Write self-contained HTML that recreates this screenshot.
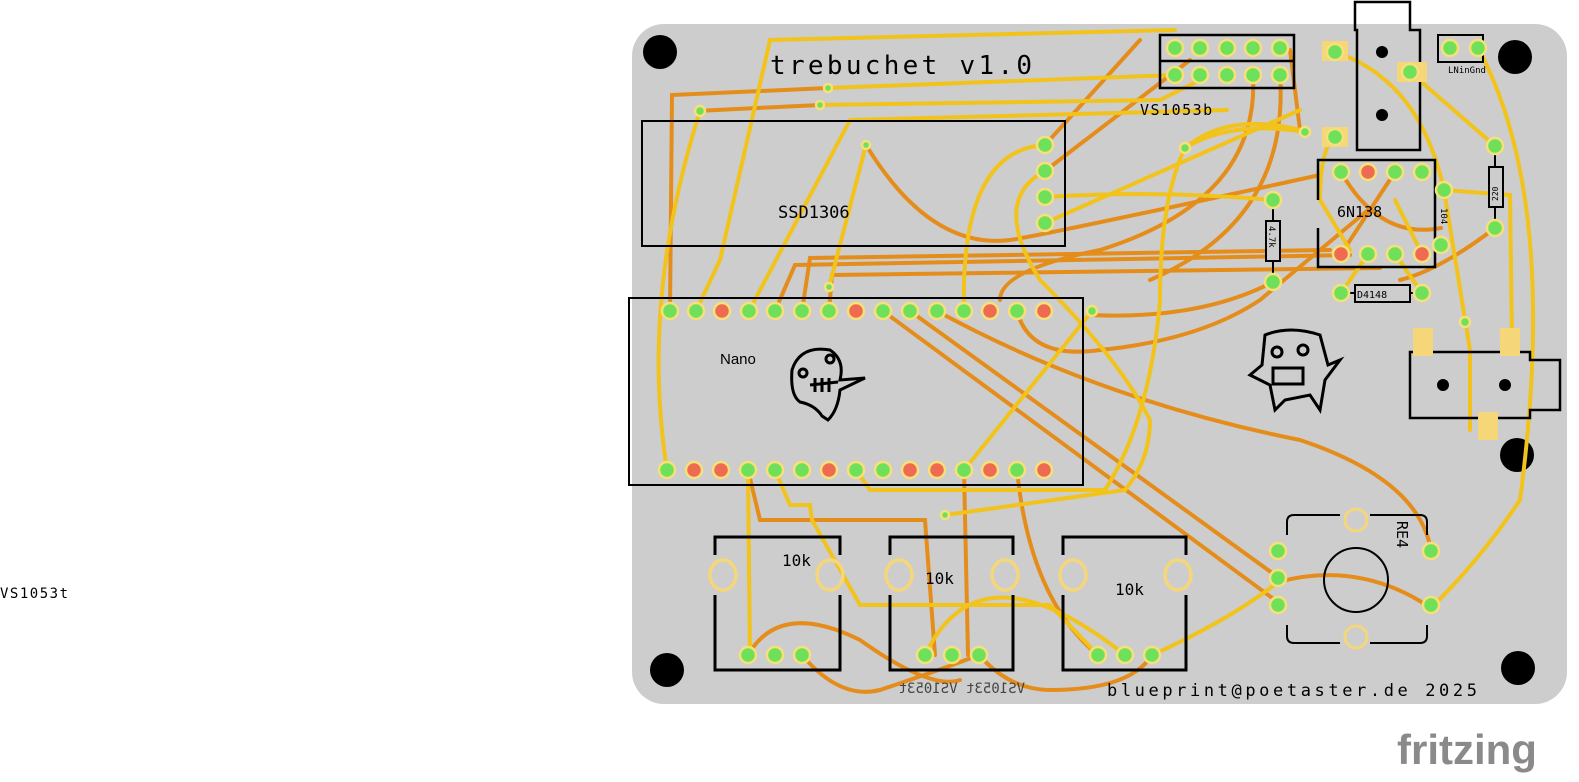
<!DOCTYPE html>
<html><head><meta charset="utf-8"><style>
html,body{margin:0;padding:0;background:#fff;width:1579px;height:782px;overflow:hidden}
svg{display:block}
text{font-family:"DejaVu Sans Mono","Liberation Mono",monospace}
</style></head><body>
<svg width="1579" height="782" viewBox="0 0 1579 782" xmlns="http://www.w3.org/2000/svg">
<rect x="632" y="24" width="935" height="680" rx="32" fill="#cdcdcd"/>
<g fill="#000">
<circle cx="660" cy="52" r="17"/><circle cx="1515" cy="57" r="17"/>
<circle cx="667" cy="670" r="17"/><circle cx="1518" cy="668" r="17"/><circle cx="1517" cy="455" r="17"/>
</g>
<g fill="none" stroke="#e58d1b" stroke-width="4" stroke-linecap="round">
<path d="M670 311 L672 95 L828 88"/>
<path d="M696 111 L820 105"/>
<path d="M866 145 Q930 250 1010 240 Q1040 236 1320 175"/>
<path d="M1045 145 L1140 40"/>
<path d="M1045 171 L1190 60"/>
<path d="M802 311 L810 258 L1330 250"/>
<path d="M775 311 L795 265 L1350 255"/>
<path d="M829 311 L832 275 L1380 268"/>
<path d="M1017 311 Q1030 360 1100 350 Q1200 340 1260 300 L1368 210"/>
<path d="M883 311 L1275 600"/>
<path d="M910 311 L1275 575"/>
<path d="M937 311 Q1100 400 1300 440 Q1420 480 1431 551"/>
<path d="M1278 582 Q1360 560 1431 608"/>
<path d="M748 470 L760 520 L925 520 L935 655"/>
<path d="M964 470 L968 655"/>
<path d="M1017 470 Q1030 600 1098 655"/>
<path d="M748 655 Q780 600 860 640 Q930 690 960 680"/>
<path d="M802 655 Q840 700 880 690 Q940 670 979 655 Q1010 690 1050 690 Q1130 690 1152 655"/>
<path d="M1253 75 Q1260 200 1100 250 Q1000 270 1000 300"/>
<path d="M1280 75 Q1290 220 1150 280"/>
<path d="M1300 130 L1290 50"/>
<path d="M1341 172 Q1380 240 1441 228"/>
<path d="M1395 172 L1341 254"/>
<path d="M1400 280 Q1440 270 1495 228"/>
<path d="M1273 282 Q1200 320 1090 315"/>
</g>
<g fill="none" stroke="#f2c31a" stroke-width="4" stroke-linecap="round">
<path d="M696 311 L720 260 L770 40 L1175 30"/>
<path d="M749 311 L850 120 L1227 110"/>
<path d="M829 287 L866 145"/>
<path d="M820 105 L1160 100 L1200 80"/>
<path d="M828 88 L1175 75"/>
<path d="M667 470 Q640 300 700 111"/>
<path d="M964 311 Q960 150 1045 145"/>
<path d="M1045 171 Q990 200 1040 280 Q1120 360 1150 420 Q1150 460 1125 490 L945 515"/>
<path d="M1045 197 Q1160 190 1273 200"/>
<path d="M1045 223 L1300 110"/>
<path d="M964 470 L1092 311"/>
<path d="M856 470 L870 490 L1105 490 Q1150 420 1160 300 Q1160 200 1185 148 Q1230 120 1305 132"/>
<path d="M748 470 L750 655"/>
<path d="M775 470 L790 505 L810 505 L812 520 L860 605 L1050 605 L1098 655"/>
<path d="M925 655 Q980 540 1125 655"/>
<path d="M1152 655 Q1230 620 1278 582"/>
<path d="M1335 52 Q1420 80 1444 190 L1470 350 L1470 430"/>
<path d="M1410 72 L1495 146"/>
<path d="M1478 48 Q1560 200 1520 500 Q1480 560 1431 608"/>
<path d="M1444 190 L1510 195 L1512 340"/>
<path d="M1335 135 Q1320 150 1320 200 L1350 250"/>
<path d="M1422 254 L1395 200"/>
<path d="M1341 293 L1368 254"/>
<path d="M1422 293 L1395 254"/>
<path d="M1185 148 Q1230 110 1308 132"/>
</g>
<rect x="642" y="121" width="423" height="125" fill="none" stroke="#000" stroke-width="2"/>
<text x="778" y="218" font-size="17" fill="#000">SSD1306</text>
<rect x="629" y="298" width="454" height="187" fill="none" stroke="#000" stroke-width="2"/>
<text x="720" y="364" font-size="15" style="font-family:'Liberation Sans',sans-serif" fill="#000">Nano</text>
<rect x="1160" y="35" width="134" height="53" fill="none" stroke="#000" stroke-width="2.5"/>
<line x1="1160" y1="61" x2="1294" y2="61" stroke="#000" stroke-width="2.5"/>
<text x="1140" y="115" font-size="15" letter-spacing="1.5" fill="#000">VS1053b</text>
<path d="M1355 30 V2 H1410 V30 H1420 V150 H1357 V30 Z" fill="none" stroke="#000" stroke-width="2.5"/>
<circle cx="1382" cy="52" r="6"/><circle cx="1382" cy="115" r="6"/>
<rect x="1322" y="41" width="26" height="20" fill="#f5d77a"/>
<rect x="1322" y="127" width="26" height="20" fill="#f5d77a"/>
<rect x="1397" y="62" width="30" height="20" fill="#f5d77a"/>
<rect x="1438" y="35" width="45" height="27" fill="none" stroke="#000" stroke-width="2"/>
<text x="1448" y="73" font-size="9" fill="#000">LNinGnd</text>
<path d="M1318 200 V160 H1435 V267 H1318 V228" fill="none" stroke="#000" stroke-width="2.5"/>
<text x="1337" y="217" font-size="15" fill="#000">6N138</text>
<line x1="1273" y1="200" x2="1273" y2="282" stroke="#000" stroke-width="2"/>
<rect x="1266" y="221" width="14" height="40" fill="#cdcdcd" stroke="#000" stroke-width="2"/>
<text transform="translate(1269,226) rotate(90)" font-size="9">4.7k</text>
<line x1="1495" y1="146" x2="1495" y2="228" stroke="#000" stroke-width="2"/>
<rect x="1489" y="167" width="14" height="40" fill="#cdcdcd" stroke="#000" stroke-width="2"/>
<text transform="translate(1498,201) rotate(-90)" font-size="8">220</text>
<line x1="1341" y1="293" x2="1422" y2="293" stroke="#000" stroke-width="2"/>
<rect x="1355" y="285" width="55" height="17" fill="#cdcdcd" stroke="#000" stroke-width="2"/>
<text x="1357" y="298" font-size="10">D4148</text>
<text transform="translate(1441,208) rotate(90)" font-size="9">104</text>
<path d="M1410 352 H1530 V360 H1560 V410 H1530 V418 H1410 Z" fill="none" stroke="#000" stroke-width="2.5"/>
<circle cx="1443" cy="385" r="6"/><circle cx="1505" cy="385" r="6"/>
<rect x="1413" y="328" width="20" height="28" fill="#f5d77a"/>
<rect x="1500" y="328" width="20" height="28" fill="#f5d77a"/>
<rect x="1478" y="412" width="20" height="28" fill="#f5d77a"/>
<path d="M1287 535 V522 Q1287 515 1294 515 H1340 M1370 515 H1420 Q1427 515 1427 522 V535 M1427 625 V636 Q1427 643 1420 643 H1370 M1340 643 H1294 Q1287 643 1287 636 V625" fill="none" stroke="#000" stroke-width="2"/>
<circle cx="1356" cy="580" r="32" fill="none" stroke="#000" stroke-width="2"/>
<circle cx="1356" cy="520" r="11" fill="none" stroke="#f5d77a" stroke-width="3"/>
<circle cx="1356" cy="637" r="11" fill="none" stroke="#f5d77a" stroke-width="3"/>
<text transform="translate(1397,521) rotate(90)" font-size="15">RE4</text>
<g fill="none" stroke="#000" stroke-width="3">
<path d="M715 555 V537 H840 V555 M715 595 V670 H840 V595"/>
<path d="M890 555 V537 H1013 V555 M890 595 V670 H1013 V595"/>
<path d="M1063 555 V537 H1186 V555 M1063 595 V670 H1186 V595"/>
</g>
<g fill="none" stroke="#f5d77a" stroke-width="3.5">
<ellipse cx="723" cy="575" rx="13" ry="15"/><ellipse cx="830" cy="575" rx="13" ry="15"/>
<ellipse cx="899" cy="575" rx="13" ry="15"/><ellipse cx="1005" cy="575" rx="13" ry="15"/>
<ellipse cx="1073" cy="575" rx="13" ry="15"/><ellipse cx="1178" cy="575" rx="13" ry="15"/>
</g>
<text x="782" y="566" font-size="16">10k</text>
<text x="925" y="584" font-size="16">10k</text>
<text x="1115" y="595" font-size="16">10k</text>
<g stroke="#f5e07a" stroke-width="2.5">
<g fill="#6ee05a">
<circle cx="670" cy="311" r="8"/><circle cx="696" cy="311" r="8"/><circle cx="749" cy="311" r="8"/><circle cx="775" cy="311" r="8"/><circle cx="802" cy="311" r="8"/><circle cx="829" cy="311" r="8"/><circle cx="883" cy="311" r="8"/><circle cx="910" cy="311" r="8"/><circle cx="937" cy="311" r="8"/><circle cx="964" cy="311" r="8"/><circle cx="1017" cy="311" r="8"/>
<circle cx="667" cy="470" r="8"/><circle cx="748" cy="470" r="8"/><circle cx="775" cy="470" r="8"/><circle cx="802" cy="470" r="8"/><circle cx="856" cy="470" r="8"/><circle cx="883" cy="470" r="8"/><circle cx="964" cy="470" r="8"/><circle cx="1017" cy="470" r="8"/>
<circle cx="1045" cy="145" r="8"/><circle cx="1045" cy="171" r="8"/><circle cx="1045" cy="197" r="8"/><circle cx="1045" cy="223" r="8"/>
<circle cx="1175" cy="48" r="8"/><circle cx="1200" cy="48" r="8"/><circle cx="1227" cy="48" r="8"/><circle cx="1253" cy="48" r="8"/><circle cx="1280" cy="48" r="8"/>
<circle cx="1175" cy="75" r="8"/><circle cx="1200" cy="75" r="8"/><circle cx="1227" cy="75" r="8"/><circle cx="1253" cy="75" r="8"/><circle cx="1280" cy="75" r="8"/>
<circle cx="1450" cy="48" r="8"/><circle cx="1478" cy="48" r="8"/>
<circle cx="1335" cy="52" r="8"/><circle cx="1335" cy="137" r="8"/><circle cx="1410" cy="72" r="8"/>
<circle cx="1341" cy="172" r="8"/><circle cx="1395" cy="172" r="8"/><circle cx="1422" cy="172" r="8"/>
<circle cx="1368" cy="254" r="8"/><circle cx="1395" cy="254" r="8"/>
<circle cx="1273" cy="200" r="8"/><circle cx="1273" cy="282" r="8"/>
<circle cx="1495" cy="146" r="8"/><circle cx="1495" cy="228" r="8"/>
<circle cx="1444" cy="190" r="8"/><circle cx="1441" cy="245" r="8"/>
<circle cx="1341" cy="293" r="8"/><circle cx="1422" cy="293" r="8"/>
<circle cx="1278" cy="551" r="8"/><circle cx="1278" cy="578" r="8"/><circle cx="1278" cy="605" r="8"/><circle cx="1431" cy="551" r="8"/><circle cx="1431" cy="605" r="8"/>
<circle cx="748" cy="655" r="8"/><circle cx="775" cy="655" r="8"/><circle cx="802" cy="655" r="8"/>
<circle cx="925" cy="655" r="8"/><circle cx="952" cy="655" r="8"/><circle cx="979" cy="655" r="8"/>
<circle cx="1098" cy="655" r="8"/><circle cx="1125" cy="655" r="8"/><circle cx="1152" cy="655" r="8"/>
<circle cx="700" cy="111" r="5"/><circle cx="828" cy="88" r="4"/><circle cx="820" cy="105" r="4"/><circle cx="866" cy="145" r="4"/><circle cx="829" cy="287" r="4"/><circle cx="1092" cy="311" r="5"/><circle cx="945" cy="515" r="4"/><circle cx="1185" cy="148" r="5"/><circle cx="1305" cy="132" r="5"/><circle cx="1465" cy="322" r="5"/>
</g>
<g fill="#ee6a50">
<circle cx="722" cy="311" r="8"/><circle cx="856" cy="311" r="8"/><circle cx="990" cy="311" r="8"/><circle cx="1044" cy="311" r="8"/>
<circle cx="694" cy="470" r="8"/><circle cx="721" cy="470" r="8"/><circle cx="829" cy="470" r="8"/><circle cx="910" cy="470" r="8"/><circle cx="937" cy="470" r="8"/><circle cx="990" cy="470" r="8"/><circle cx="1044" cy="470" r="8"/>
<circle cx="1368" cy="172" r="8"/><circle cx="1341" cy="254" r="8"/><circle cx="1422" cy="254" r="8"/>
</g>
</g>
<g fill="none" stroke="#000" stroke-width="3">
<path d="M792 370 Q800 345 830 350 Q845 360 840 380 L865 378 L840 390 Q838 410 828 420 L822 416 Q815 405 800 402 Q790 395 792 370 Z"/>
<circle cx="830" cy="359" r="4"/><circle cx="803" cy="373" r="4"/>
<path d="M810 385 L838 382 M815 378 L815 392 M822 378 L822 392 M829 378 L829 392"/>
<path d="M1265 335 Q1290 325 1320 335 L1328 365 L1340 360 L1325 380 L1320 410 L1310 395 L1285 400 L1275 410 L1270 385 L1250 375 L1262 365 Z"/>
<circle cx="1277" cy="352" r="5"/><circle cx="1303" cy="350" r="5"/>
<rect x="1273" y="368" width="30" height="16"/>
</g>
<text x="770" y="74" font-size="26" letter-spacing="3.3" fill="#000">trebuchet v1.0</text>
<text x="1107" y="696" font-size="17" letter-spacing="3.6" fill="#000">blueprint@poetaster.de 2025</text>
<text x="1025" y="693" font-size="14" fill="#444" transform="translate(2050,0) scale(-1,1)">VS1053t VS1053t</text>
<text x="0" y="598" font-size="14" letter-spacing="1.5" fill="#000">VS1053t</text>
<text x="1397" y="764" font-size="42" font-weight="bold" style="font-family:'Liberation Sans',sans-serif" fill="#8a8a8a">fritzing</text>
</svg>
</body></html>
